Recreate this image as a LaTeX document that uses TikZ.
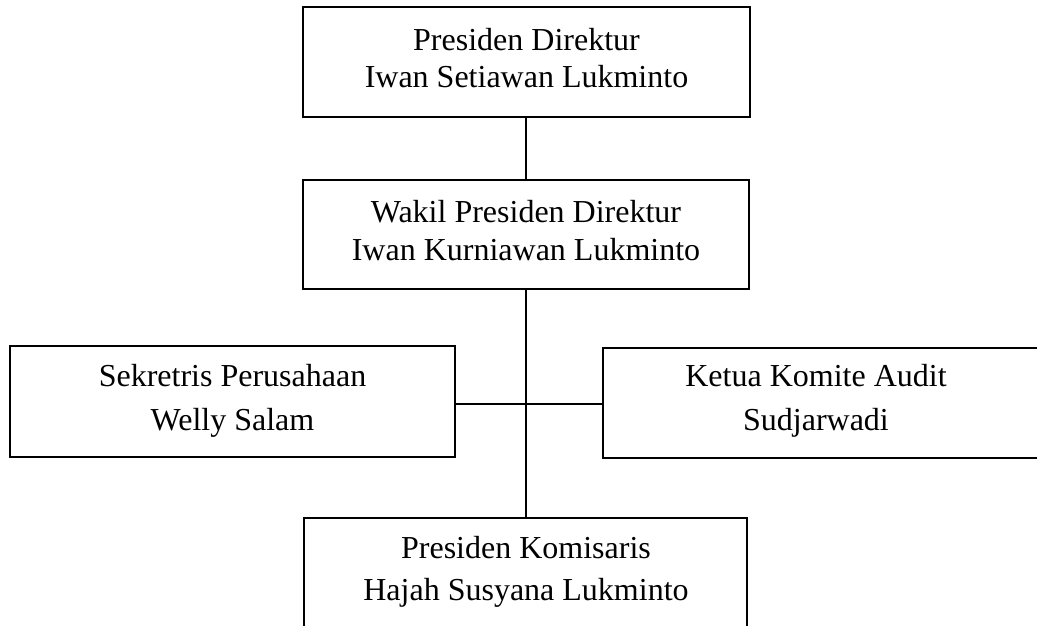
\documentclass[tikz,border=0pt]{standalone}
\usepackage{fontspec}
\setmainfont{Liberation Serif}
\begin{document}
\begin{tikzpicture}[x=1pt,y=-1pt,
  orgbox/.style={draw=black,line width=1.9pt,rectangle,inner sep=0pt,outer sep=0pt},
  lbl/.style={anchor=base,inner sep=0pt,font=\fontsize{32}{37}\selectfont},
  conn/.style={draw=black,line width=1.9pt}]
\useasboundingbox (0,0) rectangle (1037,625);
\clip (0,0) rectangle (1037,625);
% boxes
\node[orgbox,minimum width=447pt,minimum height=110pt] (pd) at (526.5,62) {};
\node[orgbox,minimum width=446pt,minimum height=109pt] (wpd) at (526,234.5) {};
\node[orgbox,minimum width=445pt,minimum height=111pt] (sek) at (232.5,401.5) {};
\node[orgbox,minimum width=442pt,minimum height=110pt] (kka) at (824,403) {};
\node[orgbox,minimum width=443pt,minimum height=110pt] (pk) at (525.5,573) {};
% texts
\node[lbl] (pd1) at (526.5,50) {Presiden Direktur};
\node[lbl] (pd2) at (526.5,87) {Iwan Setiawan Lukminto};
\node[lbl] (wpd1) at (526,222) {Wakil Presiden Direktur};
\node[lbl] (wpd2) at (526,260) {Iwan Kurniawan Lukminto};
\node[lbl] (sek1) at (232.5,386) {Sekretris Perusahaan};
\node[lbl] (sek2) at (232.5,430) {Welly Salam};
\node[lbl] (kka1) at (816,386) {Ketua Komite Audit};
\node[lbl] (kka2) at (816,430) {Sudjarwadi};
\node[lbl] (pk1) at (526,558) {Presiden Komisaris};
\node[lbl] (pk2) at (526,600) {Hajah Susyana Lukminto};
% connectors
\coordinate (j) at (526,404);
\draw[conn] (pd.south -| wpd.north) -- (wpd.north);
\draw[conn] (wpd.south) -- (pk.north -| wpd.south);
\draw[conn] (sek.east |- j) -- (kka.west |- j);
\end{tikzpicture}
\end{document}
